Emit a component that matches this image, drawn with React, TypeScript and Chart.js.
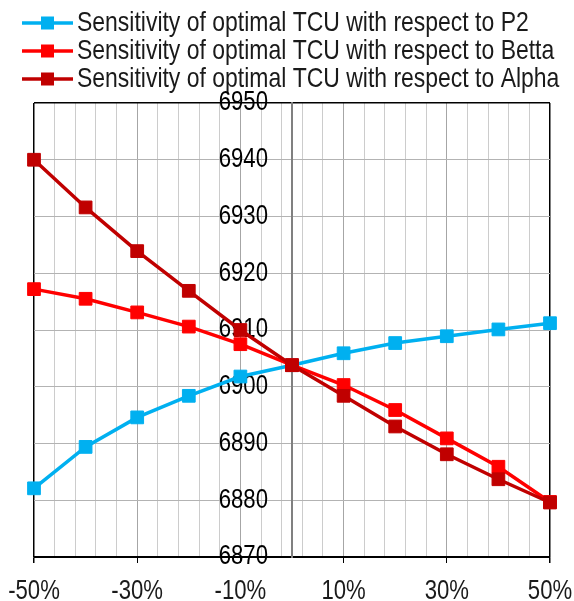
import React, { useEffect, useRef } from "react";
import { Chart, registerables } from "chart.js";

Chart.register(...registerables);

// ---- data ----
const categories = [-0.5, -0.4, -0.3, -0.2, -0.1, 0, 0.1, 0.2, 0.3, 0.4, 0.5];
const p2Values = [6882.1, 6889.4, 6894.6, 6898.4, 6901.8, 6903.8, 6905.9, 6907.7, 6908.9, 6910.1, 6911.2];
const bettaValues = [6917.2, 6915.5, 6913.1, 6910.6, 6907.5, 6903.8, 6900.3, 6895.9, 6890.9, 6885.9, 6879.7];
const alphaValues = [6940.0, 6931.6, 6923.9, 6916.9, 6910.0, 6903.8, 6898.4, 6893.0, 6888.1, 6883.7, 6879.6];
const seriesNames = [
  "Sensitivity of optimal TCU with respect to P2",
  "Sensitivity of optimal TCU with respect to Betta",
  "Sensitivity of optimal TCU with respect to Alpha",
];
const seriesColors = ["#00B0F0", "#FF0000", "#C00000"];
const xLabelTicks = [-0.5, -0.3, -0.1, 0.1, 0.3, 0.5];
const xGridTicks = [
  -0.5, -0.46, -0.42, -0.38, -0.34, -0.3, -0.26, -0.22, -0.18, -0.14, -0.1, -0.06, -0.02,
  0.02, 0.06, 0.1, 0.14, 0.18, 0.22, 0.26, 0.3, 0.34, 0.38, 0.42, 0.46, 0.5,
];
const yMin = 6870;
const yMax = 6950;
const yStep = 10;

const FONT = "'Liberation Sans', Arial, sans-serif";
const TEXT_SCALE_X = 0.82; // narrow rendering, like Arial Narrow
const LEGEND_FONT_SIZE = 28;
const TICK_FONT_SIZE = 27;
const BOX_W = 41;

function isMajor(v: number) {
  return xLabelTicks.some((t) => Math.abs(t - v) < 1e-6);
}

function legendIcon(color: string) {
  const c = document.createElement("canvas");
  c.width = 61;
  c.height = 16;
  const g = c.getContext("2d")!;
  g.strokeStyle = color;
  g.lineWidth = 3.5;
  g.beginPath();
  g.moveTo(10, 8);
  g.lineTo(61, 8);
  g.stroke();
  g.fillStyle = color;
  g.fillRect(35.5 - 6.5, 1.5, 13, 13);
  return c;
}

function narrowText(ctx: CanvasRenderingContext2D) {
  const origFill = ctx.fillText.bind(ctx);
  const origMeasure = ctx.measureText.bind(ctx);
  (ctx as any).fillText = (text: string, x: number, y: number, maxWidth?: number) => {
    ctx.save();
    ctx.translate(x, y);
    ctx.scale(TEXT_SCALE_X, 1);
    if (maxWidth !== undefined) origFill(text, 0, 0, maxWidth / TEXT_SCALE_X);
    else origFill(text, 0, 0);
    ctx.restore();
  };
  (ctx as any).measureText = (text: string) => {
    const m = origMeasure(text);
    return {
      width: m.width * TEXT_SCALE_X,
      actualBoundingBoxAscent: m.actualBoundingBoxAscent,
      actualBoundingBoxDescent: m.actualBoundingBoxDescent,
      actualBoundingBoxLeft: m.actualBoundingBoxLeft * TEXT_SCALE_X,
      actualBoundingBoxRight: m.actualBoundingBoxRight * TEXT_SCALE_X,
      fontBoundingBoxAscent: m.fontBoundingBoxAscent,
      fontBoundingBoxDescent: m.fontBoundingBoxDescent,
    };
  };
}

export default function App() {
  const ref = useRef<HTMLCanvasElement | null>(null);

  useEffect(() => {
    if (!ref.current) return;
    const ctx2d = ref.current.getContext("2d")!;
    narrowText(ctx2d);
    const allValues = [p2Values, bettaValues, alphaValues];
    const icons = seriesColors.map((c) => legendIcon(c));
    const datasets = allValues.map((vals, i) => ({
      label: seriesNames[i],
      data: categories.map((x, j) => ({ x, y: vals[j] })),
      borderColor: seriesColors[i],
      backgroundColor: seriesColors[i],
      borderWidth: 3.5,
      pointStyle: "rect" as const,
      pointRadius: 9,
      pointBorderWidth: 1,
      pointBorderColor: seriesColors[i],
      pointBackgroundColor: seriesColors[i],
      tension: 0,
      clip: false as const,
      order: 3 - i,
    }));

    const chart = new Chart(ref.current, {
      type: "line",
      data: { datasets },
      options: {
        responsive: false,
        animation: false,
        layout: { padding: { left: 22, top: 5, right: 0, bottom: 0 } },
        plugins: {
          tooltip: { enabled: false },
          legend: {
            position: "top",
            align: "start",
            labels: {
              usePointStyle: true,
              pointStyleWidth: BOX_W,
              boxHeight: LEGEND_FONT_SIZE,
              padding: 0,
              color: "#1a1a1a",
              font: { family: FONT, size: LEGEND_FONT_SIZE },
              sort: (a: any, b: any) => a.datasetIndex - b.datasetIndex,
              generateLabels: (ch: any) =>
                ch.data.datasets.map((ds: any, i: number) => ({
                  text: ds.label,
                  fillStyle: ds.borderColor,
                  strokeStyle: ds.borderColor,
                  lineWidth: 0,
                  pointStyle: icons[i],
                  datasetIndex: i,
                  hidden: false,
                  fontColor: "#1a1a1a",
                })),
            },
          },
        },
        scales: {
          x: {
            type: "linear",
            min: -0.5,
            max: 0.5,
            afterBuildTicks: (scale: any) => {
              scale.ticks = xGridTicks.map((v) => ({ value: v }));
            },
            afterFit: (scale: any) => {
              scale.paddingLeft = 34;
              scale.paddingRight = 24;
              scale.paddingTop = 103;
              scale.height = 44;
            },
            ticks: {
              autoSkip: false,
              maxRotation: 0,
              minRotation: 0,
              padding: 12,
              color: "#1a1a1a",
              font: { family: FONT, size: TICK_FONT_SIZE },
              callback: (value: any) => (isMajor(Number(value)) ? `${Math.round(Number(value) * 100)}%` : ""),
            },
            grid: {
              color: (ctx: any) => {
                const v = ctx.tick ? ctx.tick.value : 0;
                if (Math.abs(Math.abs(v) - 0.5) < 1e-6) return "#000000";
                return isMajor(v) ? "#a6a6a6" : "#cccccc";
              },
              lineWidth: (ctx: any) => {
                const v = ctx.tick ? ctx.tick.value : 0;
                return Math.abs(Math.abs(v) - 0.5) < 1e-6 ? 1.5 : 1;
              },
              tickLength: 6,
              tickColor: (ctx: any) => {
                const v = ctx.tick ? ctx.tick.value : 0;
                return isMajor(v) ? "#000000" : "rgba(0,0,0,0)";
              },
            },
            border: { color: "#000000", width: 1.5 },
          },
          y: {
            type: "linear",
            position: "center",
            min: yMin,
            max: yMax,
            ticks: {
              stepSize: yStep,
              padding: 24,
              color: "#000000",
              font: { family: FONT, size: TICK_FONT_SIZE },
              callback: (value: any) => String(value),
            },
            grid: {
              drawTicks: false,
              color: (ctx: any) => {
                const v = ctx.tick ? ctx.tick.value : 0;
                if (v === yMax || v === yMin) return "#000000";
                return "#b3b3b3";
              },
              lineWidth: (ctx: any) => {
                const v = ctx.tick ? ctx.tick.value : 0;
                return v === yMax ? 1.5 : 1;
              },
            },
            border: { color: "#808080", width: 2 },
          },
        },
      },
    });
    return () => chart.destroy();
  }, []);

  return (
    <div style={{ position: "fixed", left: 0, top: 0, width: 574, height: 601, background: "#ffffff" }}>
      <canvas ref={ref} width={574} height={601} style={{ display: "block" }} />
    </div>
  );
}
